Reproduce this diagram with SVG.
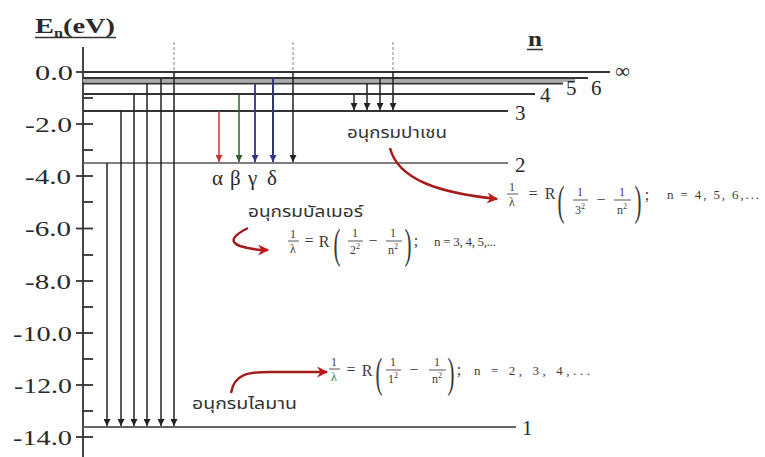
<svg xmlns="http://www.w3.org/2000/svg" width="765" height="457" viewBox="0 0 765 457">
<style>
.ax{font-family:"Liberation Serif","Times New Roman",serif;font-size:22px;fill:#2a2a2a}
.lbl{font-family:"Liberation Serif","Times New Roman",serif;font-size:21px;fill:#2a2a2a}
.th{font-family:"Noto Sans Thai","Noto Serif Thai","Loma","Garuda","Norasi","DejaVu Sans",sans-serif;font-size:15px;fill:#333}
.f{font-family:"Liberation Serif","Times New Roman",serif;fill:#3a3a3a}
.fs{font-size:12px;text-anchor:middle}
.fm{font-size:16px;text-anchor:middle}
.fp{font-size:28px;text-anchor:middle;font-weight:normal}
.fn{font-size:13px}
.lv{stroke:#333;stroke-width:2;fill:none}
.tk{stroke:#333;stroke-width:1.8}
.ar{stroke:#222;stroke-width:1.5;fill:none;marker-end:url(#ah)}
.dash{stroke:#999;stroke-width:1.2;stroke-dasharray:3,2}
.cv{stroke:#a31d1d;stroke-width:2.5;fill:none;marker-end:url(#rh)}
.bar{stroke:#444;stroke-width:0.9}
</style>
<defs>
<marker id="ah" viewBox="0 0 8 8" refX="8" refY="4" markerWidth="7" markerHeight="7" markerUnits="userSpaceOnUse" orient="auto"><path d="M0,0L8,4L0,8z" fill="#222"/></marker>
<marker id="ahr" viewBox="0 0 8 8" refX="8" refY="4" markerWidth="7" markerHeight="7" markerUnits="userSpaceOnUse" orient="auto"><path d="M0,0L8,4L0,8z" fill="#c33"/></marker>
<marker id="ahg" viewBox="0 0 8 8" refX="8" refY="4" markerWidth="7" markerHeight="7" markerUnits="userSpaceOnUse" orient="auto"><path d="M0,0L8,4L0,8z" fill="#2f5f2f"/></marker>
<marker id="ahb" viewBox="0 0 8 8" refX="8" refY="4" markerWidth="7" markerHeight="7" markerUnits="userSpaceOnUse" orient="auto"><path d="M0,0L8,4L0,8z" fill="#33338a"/></marker>
<marker id="rh" viewBox="0 0 10 10" refX="9" refY="5" markerWidth="13" markerHeight="11" markerUnits="userSpaceOnUse" orient="auto"><path d="M0,0L10,5L0,10L3,5z" fill="#c01818"/></marker>
</defs>
<rect width="765" height="457" fill="#fff"/>

<g id="axis">
<text class="lbl" x="35" y="33" font-weight="bold" textLength="80" lengthAdjust="spacingAndGlyphs">E<tspan font-size="12" dy="4">n</tspan><tspan dy="-4">(eV)</tspan></text>
<line x1="35" y1="37.5" x2="116" y2="37.5" stroke="#333" stroke-width="1.5"/>
<line x1="83" y1="47" x2="83" y2="457" stroke="#333" stroke-width="1.8"/>
<g class="tk">
<line x1="76" y1="72" x2="93" y2="72"/><line x1="76" y1="124" x2="93" y2="124"/><line x1="76" y1="176" x2="93" y2="176"/><line x1="76" y1="228.5" x2="93" y2="228.5"/><line x1="76" y1="281" x2="93" y2="281"/><line x1="76" y1="333" x2="93" y2="333"/><line x1="76" y1="385" x2="93" y2="385"/><line x1="76" y1="437" x2="93" y2="437"/>
<line x1="82" y1="98" x2="93" y2="98"/><line x1="82" y1="150" x2="93" y2="150"/><line x1="82" y1="202" x2="93" y2="202"/><line x1="82" y1="255" x2="93" y2="255"/><line x1="82" y1="307" x2="93" y2="307"/><line x1="82" y1="359" x2="93" y2="359"/><line x1="82" y1="411" x2="93" y2="411"/>
</g>
<text class="ax" x="35" y="80" textLength="38" lengthAdjust="spacingAndGlyphs">0.0</text>
<text class="ax" x="25" y="132" textLength="47" lengthAdjust="spacingAndGlyphs">-2.0</text>
<text class="ax" x="25" y="184" textLength="46" lengthAdjust="spacingAndGlyphs">-4.0</text>
<text class="ax" x="25" y="236" textLength="46" lengthAdjust="spacingAndGlyphs">-6.0</text>
<text class="ax" x="25" y="289" textLength="46" lengthAdjust="spacingAndGlyphs">-8.0</text>
<text class="ax" x="13" y="341" textLength="59" lengthAdjust="spacingAndGlyphs">-10.0</text>
<text class="ax" x="14" y="393" textLength="58" lengthAdjust="spacingAndGlyphs">-12.0</text>
<text class="ax" x="13" y="445" textLength="59" lengthAdjust="spacingAndGlyphs">-14.0</text>
<text class="lbl" x="528" y="46" font-weight="bold" font-size="19" textLength="14" lengthAdjust="spacingAndGlyphs">n</text>
<line x1="527" y1="49.5" x2="543" y2="49.5" stroke="#333" stroke-width="1.5"/>
</g>

<g id="level-inf"><line class="lv" x1="83" y1="72" x2="610" y2="72"/><text class="lbl" x="615" y="78" font-size="17">∞</text></g>
<g id="level-6"><line class="lv" x1="83" y1="78" x2="588" y2="78"/><text class="lbl" x="591" y="95">6</text></g>
<g id="level-5"><line x1="83" y1="80.5" x2="575" y2="80.5" stroke="#aaa" stroke-width="3"/><line class="lv" x1="83" y1="83.5" x2="563" y2="83.5"/><text class="lbl" x="566" y="95">5</text></g>
<g id="level-4"><line class="lv" x1="83" y1="94" x2="535" y2="94"/><text class="lbl" x="540" y="102">4</text></g>
<g id="level-3"><line class="lv" x1="83" y1="111" x2="508" y2="111"/><text class="lbl" x="515" y="120">3</text></g>
<g id="level-2"><line x1="83" y1="163" x2="508" y2="163" stroke="#555" stroke-width="1.6"/><text class="lbl" x="515" y="172">2</text></g>
<g id="level-1"><line x1="83" y1="427" x2="516" y2="427" stroke="#666" stroke-width="2"/><text class="lbl" x="522" y="435">1</text></g>

<g id="connectors">
<line class="dash" x1="174" y1="42" x2="174" y2="70"/>
<line class="dash" x1="293" y1="42" x2="293" y2="70"/>
<line class="dash" x1="393" y1="42" x2="393" y2="70"/>
<line class="ar" x1="107" y1="163" x2="107" y2="426"/>
<line class="ar" x1="121" y1="111" x2="121" y2="426"/>
<line class="ar" x1="134" y1="94" x2="134" y2="426"/>
<line class="ar" x1="147" y1="83" x2="147" y2="426"/>
<line class="ar" x1="161" y1="78" x2="161" y2="426"/>
<line class="ar" x1="174" y1="72" x2="174" y2="426"/>
<line x1="219" y1="111" x2="219" y2="162" stroke="#c33" stroke-width="1.5" marker-end="url(#ahr)"/>
<line x1="239" y1="94" x2="239" y2="162" stroke="#2f5f2f" stroke-width="1.5" marker-end="url(#ahg)"/>
<line x1="255" y1="84" x2="255" y2="162" stroke="#33338a" stroke-width="1.8" marker-end="url(#ahb)"/>
<line x1="273" y1="78" x2="273" y2="162" stroke="#33338a" stroke-width="2" marker-end="url(#ahb)"/>
<line class="ar" x1="293" y1="72" x2="293" y2="162"/>
<line class="ar" x1="354" y1="94" x2="354" y2="110"/>
<line class="ar" x1="367" y1="84" x2="367" y2="110"/>
<line class="ar" x1="380" y1="78" x2="380" y2="110"/>
<line class="ar" x1="393" y1="72" x2="393" y2="110"/>
<path class="cv" d="M390,148 C398,180 440,193 497,199"/>
<path class="cv" d="M248,228 Q224,240 240,246 Q252,250 268,250"/>
<path class="cv" d="M231,393 C234,374 248,372 270,372 L327,372"/>
</g>

<g id="greek">
<text class="lbl" x="212" y="185" font-size="22">α</text>
<text class="lbl" x="230" y="185" font-size="22">β</text>
<text class="lbl" x="248" y="185" font-size="22">γ</text>
<text class="lbl" x="267" y="185" font-size="22">δ</text>
</g>

<g id="paschen">
<text class="th" x="347" y="138" textLength="100" lengthAdjust="spacingAndGlyphs">อนุกรมปาเชน</text>
<g class="f">
<text class="fs" x="512" y="191">1</text><line class="bar" x1="507" y1="194" x2="518" y2="194"/><text class="fs" x="512" y="206">λ</text>
<text class="fm" x="533" y="199">=</text>
<text class="fm" x="550" y="199">R</text>
<text class="fp" transform="translate(561,215) scale(0.75,1.5)">(</text>
<text class="fs" x="580" y="196">1</text><line class="bar" x1="573" y1="200" x2="588" y2="200"/><text class="fs" x="580" y="214">3<tspan font-size="8" dy="-5">2</tspan></text>
<text class="fm" x="601" y="205">−</text>
<text class="fs" x="622" y="196">1</text><line class="bar" x1="614" y1="200" x2="631" y2="200"/><text class="fs" x="622" y="214">n<tspan font-size="8" dy="-5">2</tspan></text>
<text class="fp" transform="translate(638,215) scale(0.75,1.5)">)</text>
<text class="fm" x="647" y="200">;</text>
<text class="fn" x="667" y="199" textLength="92" lengthAdjust="spacing">n = 4, 5, 6,...</text>
</g>
</g>

<g id="balmer">
<text class="th" x="248" y="217" textLength="115" lengthAdjust="spacingAndGlyphs">อนุกรมบัลเมอร์</text>
<g class="f">
<text class="fs" x="293" y="238">1</text><line class="bar" x1="288" y1="241" x2="299" y2="241"/><text class="fs" x="293" y="253">λ</text>
<text class="fm" x="309" y="246">=</text>
<text class="fm" x="324" y="247">R</text>
<text class="fp" transform="translate(337,258) scale(0.75,1.5)">(</text>
<text class="fs" x="355" y="237">1</text><line class="bar" x1="348" y1="241" x2="363" y2="241"/><text class="fs" x="355" y="254">2<tspan font-size="8" dy="-5">2</tspan></text>
<text class="fm" x="373" y="246">−</text>
<text class="fs" x="393" y="237">1</text><line class="bar" x1="386" y1="241" x2="402" y2="241"/><text class="fs" x="393" y="254">n<tspan font-size="8" dy="-5">2</tspan></text>
<text class="fp" transform="translate(408,258) scale(0.75,1.5)">)</text>
<text class="fm" x="416" y="246">;</text>
<text class="fn" x="434" y="246" textLength="62" lengthAdjust="spacing">n = 3, 4, 5,...</text>
</g>
</g>

<g id="lyman">
<text class="th" x="192" y="409" textLength="105" lengthAdjust="spacingAndGlyphs">อนุกรมไลมาน</text>
<g class="f">
<text class="fs" x="334" y="366">1</text><line class="bar" x1="329" y1="369" x2="340" y2="369"/><text class="fs" x="334" y="381" fill="#2a7a6a">λ</text>
<text class="fm" x="351" y="375">=</text>
<text class="fm" x="367" y="376">R</text>
<text class="fp" transform="translate(379,387) scale(0.75,1.5)">(</text>
<text class="fs" x="393" y="366">1</text><line class="bar" x1="386" y1="370" x2="401" y2="370"/><text class="fs" x="393" y="383">1<tspan font-size="8" dy="-5">2</tspan></text>
<text class="fm" x="414" y="375">−</text>
<text class="fs" x="437" y="366">1</text><line class="bar" x1="429" y1="370" x2="446" y2="370"/><text class="fs" x="437" y="383">n<tspan font-size="8" dy="-5">2</tspan></text>
<text class="fp" transform="translate(451,387) scale(0.75,1.5)">)</text>
<text class="fm" x="459" y="375">;</text>
<text class="fn" x="474" y="375" textLength="116" lengthAdjust="spacing">n = 2, 3, 4,...</text>
</g>
</g>
</svg>
